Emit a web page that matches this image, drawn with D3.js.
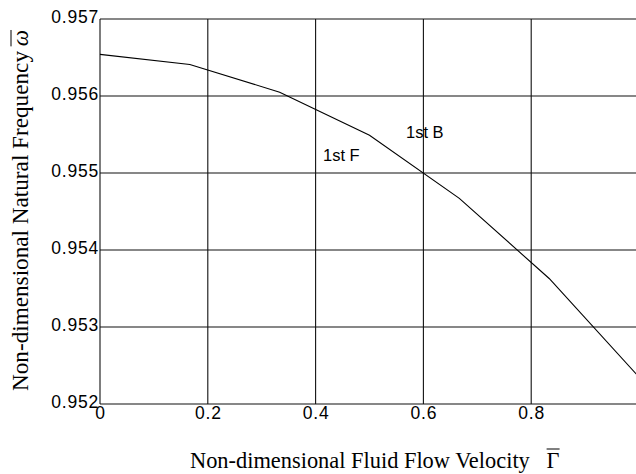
<!DOCTYPE html>
<html>
<head>
<meta charset="utf-8">
<script src="https://cdn.jsdelivr.net/npm/d3@7"></script>
<style>
  body { margin: 0; background: #fff; }
  svg { display: block; }
</style>
</head>
<body>
<svg id="chart" width="636" height="474"></svg>
<script>
// flow velocity vs natural frequency
const velocity = [0, 1/6, 1/3, 1/2, 2/3, 5/6, 1];
const frequency = [0.95654, 0.95641, 0.95605, 0.95549, 0.95467, 0.95363, 0.95235];
const xTicks = [0, 0.2, 0.4, 0.6, 0.8, 1.0];
const yTicks = [0.952, 0.953, 0.954, 0.955, 0.956, 0.957];
const labels = [
  {text: "1st F", x: 0.4137, y: 0.95516},
  {text: "1st B", x: 0.5677, y: 0.95546}
];

const svg = d3.select("#chart");
const margin = {top: 19, left: 100, right: 639, bottom: 404};

const x = d3.scaleLinear().domain([0, 1]).range([margin.left, margin.right]);
const y = d3.scaleLinear().domain([0.952, 0.957]).range([margin.bottom, margin.top]);

//grid
svg.append("g")
  .selectAll("line")
  .data(xTicks)
  .enter().append("line")
  .attr("x1", d => x(d)).attr("x2", d => x(d))
  .attr("y1", margin.top).attr("y2", margin.bottom)
  .attr("stroke", "#111").attr("stroke-width", 1.1);

svg.append("g")
  .selectAll("line")
  .data(yTicks)
  .enter().append("line")
  .attr("x1", margin.left).attr("x2", margin.right)
  .attr("y1", d => y(d)).attr("y2", d => y(d))
  .attr("stroke", "#111").attr("stroke-width", 1.1);

//axes labels via d3 axes, lines hidden
const xAxis = svg.append("g")
  .attr("transform", "translate(0," + margin.bottom + ")")
  .call(d3.axisBottom(x).tickValues(xTicks.slice(0, 5)).tickSize(0).tickPadding(3)
    .tickFormat(d => d === 0 ? "0" : d3.format(".1f")(d)));
xAxis.select(".domain").remove();
xAxis.selectAll("text")
  .attr("font-family", "Liberation Sans, Arial, sans-serif")
  .attr("font-size", 17.5).attr("letter-spacing", 0.8).attr("fill", "#000");

const yAxis = svg.append("g")
  .attr("transform", "translate(" + margin.left + ",0)")
  .call(d3.axisLeft(y).tickValues(yTicks).tickSize(0).tickPadding(1).tickFormat(d3.format(".3f")));
yAxis.select(".domain").remove();
yAxis.selectAll("text")
  .attr("font-family", "Liberation Sans, Arial, sans-serif")
  .attr("font-size", 17.5).attr("letter-spacing", 0.8).attr("dy", "0.18em").attr("fill", "#000");

//curve
const line = d3.line().x((d, i) => x(velocity[i])).y(d => y(d));
svg.append("path")
  .datum(frequency)
  .attr("d", line)
  .attr("fill", "none")
  .attr("stroke", "#000")
  .attr("stroke-width", 1.1);

svg.append("g")
  .selectAll("text")
  .data(labels)
  .enter().append("text")
  .attr("x", d => x(d.x)).attr("y", d => y(d.y))
  .attr("font-family", "Liberation Sans, Arial, sans-serif")
  .attr("font-size", 16.5)
  .text(d => d.text);

//axis titles
const xTitle = svg.append("text")
  .attr("x", 190).attr("y", 468)
  .attr("font-family", "Liberation Serif, Times New Roman, serif")
  .attr("font-size", 22.4);
xTitle.append("tspan").text("Non-dimensional Fluid Flow Velocity\u00a0\u00a0\u00a0");
const gam = xTitle.append("tspan").text("\u0393");

const yTitle = svg.append("text")
  .attr("transform", "translate(28,391) rotate(-90)")
  .attr("font-family", "Liberation Serif, Times New Roman, serif")
  .attr("font-size", 23.2);
yTitle.append("tspan").text("Non-dimensional Natural Frequency\u2009");
const om = yTitle.append("tspan").attr("font-style", "italic").text("\u03c9");

//overbars over symbols
const gb = gam.node().getBBox();
svg.append("line")
  .attr("x1", gb.x).attr("x2", gb.x + gb.width)
  .attr("y1", gb.y + 1).attr("y2", gb.y + 1)
  .attr("stroke", "#000").attr("stroke-width", 1);

const oStart = yTitle.node().getSubStringLength(0, yTitle.text().length - 1);
const oLen = om.node().getComputedTextLength();
svg.append("line")
  .attr("transform", "translate(28,391) rotate(-90)")
  .attr("x1", oStart).attr("x2", oStart + oLen)
  .attr("y1", -17).attr("y2", -17)
  .attr("stroke", "#000").attr("stroke-width", 1);
</script>
</body>
</html>
